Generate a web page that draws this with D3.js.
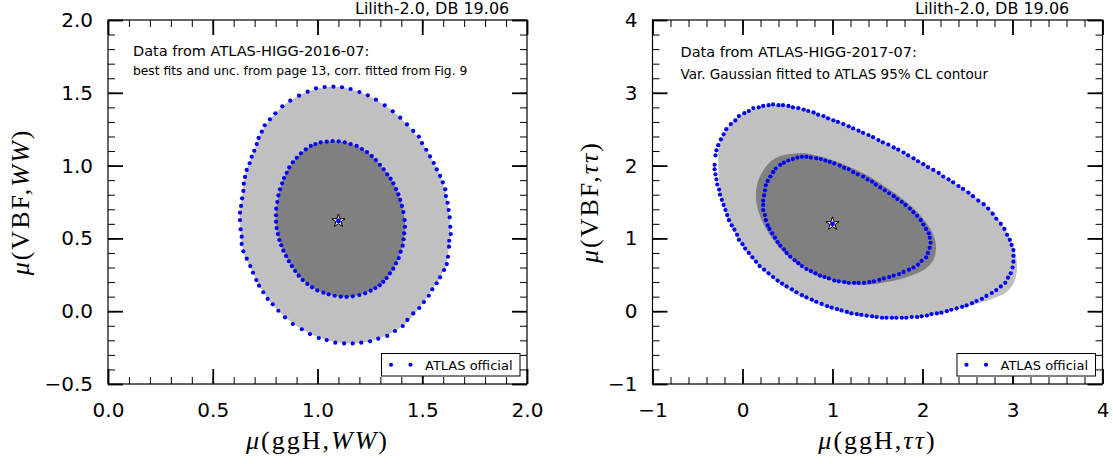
<!DOCTYPE html>
<html><head><meta charset="utf-8">
<script src="https://cdn.jsdelivr.net/npm/d3@7"></script>
<style>body{margin:0;background:#fff}svg{display:block}</style>
</head><body>
<svg id="chart" width="1113" height="464"></svg>
<script>
// ---------------- DATA ----------------
const headerLabel = "Lilith-2.0, DB 19.06";
const legendLabel = "ATLAS official";

const xTicksWW = [0, 0.5, 1, 1.5, 2];
const xTickLabelsWW = ["0.0", "0.5", "1.0", "1.5", "2.0"];
const yTicksWW = [-0.5, 0, 0.5, 1, 1.5, 2];
const yTickLabelsWW = ["\u22120.5", "0.0", "0.5", "1.0", "1.5", "2.0"];
const xTicksTT = [-1, 0, 1, 2, 3, 4];
const xTickLabelsTT = ["\u22121", "0", "1", "2", "3", "4"];
const yTicksTT = [-1, 0, 1, 2, 3, 4];
const yTickLabelsTT = ["\u22121", "0", "1", "2", "3", "4"];

const noteWW = ["Data from ATLAS-HIGG-2016-07:", "best fits and unc. from page 13, corr. fitted from Fig. 9"];
const noteTT = ["Data from ATLAS-HIGG-2017-07:", "Var. Gaussian fitted to ATLAS 95% CL contour"];

const bestFitWW = [1.10, 0.62];
const bestFitTT = [1.00, 1.20];

// ATLAS official contour points (blue dots), WW channel
const atlasOuterWW = [
[1.076,1.542],[1.117,1.538],[1.158,1.526],[1.200,1.505],[1.240,1.483],[1.279,1.453],[1.321,1.414],[1.359,1.373],
[1.395,1.329],[1.427,1.283],[1.457,1.238],[1.484,1.199],[1.499,1.155],[1.519,1.109],[1.537,1.063],[1.555,1.018],
[1.569,0.974],[1.585,0.929],[1.598,0.885],[1.610,0.837],[1.613,0.791],[1.621,0.745],[1.626,0.695],[1.631,0.645],
[1.634,0.580],[1.636,0.530],[1.629,0.484],[1.628,0.443],[1.623,0.374],[1.617,0.324],[1.604,0.283],[1.585,0.233],
[1.569,0.192],[1.548,0.150],[1.531,0.106],[1.508,0.063],[1.486,0.022],[1.457,-0.015],[1.429,-0.060],[1.407,-0.102],
[1.370,-0.136],[1.333,-0.170],[1.290,-0.189],[1.251,-0.207],[1.209,-0.216],[1.168,-0.221],[1.127,-0.221],[1.085,-0.216],
[1.044,-0.198],[1.006,-0.184],[0.964,-0.157],[0.925,-0.124],[0.882,-0.088],[0.845,-0.042],[0.813,0.003],[0.786,0.047],
[0.762,0.084],[0.741,0.130],[0.721,0.175],[0.708,0.214],[0.692,0.264],[0.679,0.310],[0.662,0.361],[0.646,0.411],
[0.638,0.462],[0.638,0.512],[0.633,0.562],[0.630,0.626],[0.630,0.677],[0.635,0.723],[0.640,0.775],[0.646,0.826],
[0.648,0.876],[0.654,0.922],[0.662,0.970],[0.676,1.016],[0.686,1.061],[0.698,1.102],[0.710,1.148],[0.719,1.190],
[0.734,1.233],[0.748,1.277],[0.773,1.318],[0.799,1.359],[0.832,1.407],[0.870,1.446],[0.912,1.480],[0.953,1.508],
[0.993,1.531],[1.034,1.540]
];
const atlasInnerWW = [
[1.044,1.164],[1.072,1.169],[1.101,1.167],[1.130,1.160],[1.158,1.148],[1.187,1.135],[1.212,1.114],[1.236,1.093],
[1.259,1.066],[1.279,1.038],[1.298,1.006],[1.316,0.975],[1.333,0.940],[1.349,0.910],[1.362,0.878],[1.375,0.839],
[1.386,0.803],[1.395,0.764],[1.403,0.723],[1.410,0.681],[1.416,0.626],[1.418,0.580],[1.414,0.535],[1.411,0.494],
[1.407,0.450],[1.397,0.409],[1.388,0.365],[1.375,0.329],[1.362,0.292],[1.346,0.260],[1.330,0.228],[1.314,0.201],
[1.297,0.178],[1.276,0.159],[1.254,0.141],[1.228,0.123],[1.200,0.111],[1.168,0.102],[1.139,0.098],[1.111,0.100],
[1.082,0.106],[1.053,0.116],[1.028,0.127],[0.999,0.143],[0.974,0.164],[0.951,0.187],[0.929,0.214],[0.910,0.244],
[0.893,0.276],[0.877,0.310],[0.863,0.343],[0.850,0.379],[0.837,0.416],[0.827,0.453],[0.818,0.489],[0.811,0.530],
[0.805,0.571],[0.802,0.615],[0.802,0.659],[0.803,0.704],[0.808,0.750],[0.813,0.796],[0.821,0.837],[0.831,0.878],
[0.840,0.915],[0.853,0.951],[0.865,0.988],[0.882,1.023],[0.901,1.054],[0.921,1.084],[0.944,1.112],[0.968,1.135],
[0.990,1.148],[1.015,1.160]
];
// Lilith contours (grey fills), WW channel
const lilithOuterWW = [
[1.076,1.542],[1.200,1.505],[1.321,1.414],[1.427,1.283],[1.499,1.155],[1.555,1.018],[1.598,0.885],[1.621,0.745],
[1.634,0.580],[1.628,0.443],[1.604,0.283],[1.548,0.150],[1.486,0.022],[1.407,-0.102],[1.290,-0.189],[1.168,-0.221],
[1.044,-0.198],[0.925,-0.124],[0.813,0.003],[0.741,0.130],[0.692,0.264],[0.646,0.411],[0.633,0.562],[0.630,0.677],
[0.640,0.775],[0.648,0.876],[0.662,0.970],[0.698,1.102],[0.734,1.233],[0.799,1.359],[0.870,1.446],[0.953,1.508]
];
const lilithInnerWW = [
[1.072,1.169],[1.158,1.148],[1.236,1.093],[1.298,1.006],[1.349,0.910],[1.386,0.803],[1.410,0.681],[1.418,0.580],
[1.411,0.494],[1.397,0.409],[1.375,0.329],[1.330,0.228],[1.276,0.159],[1.200,0.111],[1.111,0.100],[1.028,0.127],
[0.951,0.187],[0.893,0.276],[0.850,0.379],[0.818,0.489],[0.802,0.615],[0.808,0.750],[0.831,0.878],[0.865,0.988],
[0.921,1.084],[0.990,1.148]
];

// ATLAS official contour points (blue dots), tau-tau channel
const atlasOuterTT = [
[-0.31,2.01],[-0.30,2.14],[-0.29,2.21],[-0.27,2.28],[-0.24,2.36],[-0.21,2.43],[-0.18,2.50],[-0.13,2.57],[-0.08,2.62],
[-0.04,2.68],[0.02,2.72],[0.07,2.75],[0.12,2.79],[0.18,2.80],[0.23,2.82],[0.29,2.83],[0.34,2.84],[0.40,2.83],
[0.45,2.83],[0.51,2.82],[0.56,2.80],[0.62,2.79],[0.68,2.77],[0.73,2.75],[0.79,2.73],[0.84,2.70],[0.90,2.68],
[0.95,2.65],[1.01,2.62],[1.06,2.60],[1.12,2.57],[1.18,2.54],[1.23,2.51],[1.29,2.48],[1.34,2.45],[1.40,2.42],
[1.45,2.39],[1.51,2.35],[1.56,2.32],[1.62,2.29],[1.68,2.25],[1.73,2.22],[1.79,2.18],[1.84,2.14],[1.90,2.10],
[1.95,2.06],[2.01,2.02],[2.06,1.98],[2.12,1.94],[2.18,1.90],[2.23,1.85],[2.29,1.81],[2.34,1.77],[2.40,1.72],
[2.45,1.68],[2.51,1.63],[2.56,1.58],[2.62,1.52],[2.68,1.47],[2.73,1.41],[2.78,1.34],[2.82,1.27],[2.87,1.20],
[2.91,1.13],[2.94,1.05],[2.97,0.98],[2.99,0.91],[3.01,0.84],[3.01,0.76],[3.01,0.68],[3.00,0.60],[2.98,0.52],
[2.95,0.46],[2.92,0.39],[2.87,0.34],[2.82,0.29],[2.77,0.25],[2.71,0.21],[2.66,0.17],[2.60,0.14],[2.55,0.11],
[2.49,0.08],[2.44,0.06],[2.38,0.04],[2.32,0.02],[2.27,0.00],[2.21,-0.02],[2.16,-0.03],[2.10,-0.04],[2.05,-0.06],
[1.99,-0.07],[1.94,-0.08],[1.88,-0.08],[1.82,-0.09],[1.77,-0.09],[1.71,-0.09],[1.66,-0.09],[1.60,-0.09],[1.55,-0.09],
[1.49,-0.08],[1.44,-0.07],[1.38,-0.06],[1.32,-0.05],[1.27,-0.04],[1.21,-0.03],[1.16,-0.01],[1.10,0.01],[1.05,0.03],
[0.99,0.05],[0.94,0.07],[0.88,0.10],[0.82,0.13],[0.77,0.16],[0.71,0.19],[0.66,0.22],[0.60,0.26],[0.55,0.30],
[0.49,0.34],[0.44,0.38],[0.39,0.42],[0.34,0.47],[0.29,0.52],[0.24,0.57],[0.19,0.62],[0.15,0.68],[0.11,0.74],
[0.07,0.80],[0.03,0.86],[0.00,0.92],[-0.04,0.98],[-0.06,1.05],[-0.09,1.12],[-0.12,1.18],[-0.15,1.25],[-0.17,1.32],
[-0.19,1.39],[-0.21,1.46],[-0.23,1.53],[-0.25,1.60],[-0.26,1.67],[-0.28,1.74],[-0.29,1.81],[-0.30,1.88],[-0.31,1.95]
];
const atlasInnerTT = [
[0.23,1.46],[0.23,1.52],[0.24,1.59],[0.25,1.66],[0.26,1.73],[0.28,1.79],[0.31,1.85],[0.34,1.91],[0.37,1.96],
[0.42,2.01],[0.46,2.04],[0.51,2.07],[0.56,2.09],[0.61,2.11],[0.66,2.12],[0.71,2.12],[0.76,2.11],[0.82,2.10],
[0.87,2.09],[0.92,2.07],[0.97,2.05],[1.02,2.03],[1.08,2.00],[1.13,1.97],[1.18,1.95],[1.23,1.91],[1.28,1.88],
[1.34,1.85],[1.39,1.81],[1.44,1.78],[1.48,1.74],[1.53,1.70],[1.58,1.66],[1.63,1.62],[1.68,1.58],[1.72,1.54],
[1.77,1.50],[1.81,1.46],[1.86,1.41],[1.90,1.36],[1.94,1.31],[1.98,1.25],[2.01,1.19],[2.04,1.13],[2.07,1.07],
[2.08,1.01],[2.09,0.94],[2.08,0.87],[2.06,0.80],[2.04,0.74],[1.99,0.69],[1.95,0.64],[1.90,0.60],[1.85,0.57],
[1.79,0.54],[1.74,0.51],[1.68,0.49],[1.63,0.47],[1.57,0.45],[1.52,0.43],[1.46,0.41],[1.41,0.40],[1.35,0.39],
[1.29,0.39],[1.24,0.39],[1.18,0.39],[1.13,0.40],[1.07,0.41],[1.02,0.42],[0.96,0.45],[0.91,0.47],[0.86,0.49],
[0.81,0.52],[0.76,0.55],[0.71,0.58],[0.66,0.62],[0.62,0.66],[0.58,0.70],[0.53,0.75],[0.49,0.80],[0.46,0.85],
[0.42,0.90],[0.39,0.95],[0.36,1.01],[0.33,1.07],[0.30,1.13],[0.28,1.18],[0.26,1.25],[0.25,1.32],[0.23,1.39]
];
// Lilith contours (grey fills), tau-tau channel
const lilithOuterTT = [
[-0.27,2.05],[-0.26,2.28],[-0.18,2.49],[-0.04,2.68],[0.16,2.79],[0.34,2.83],[0.56,2.81],[0.86,2.71],
[1.16,2.56],[1.45,2.39],[1.75,2.21],[2.05,2.00],[2.34,1.77],[2.60,1.56],[2.79,1.35],[2.93,1.11],
[3.02,0.85],[3.05,0.62],[3.02,0.40],[2.93,0.26],[2.75,0.16],[2.49,0.06],[2.19,-0.03],[1.90,-0.09],
[1.60,-0.10],[1.31,-0.07],[1.00,0.02],[0.71,0.16],[0.45,0.34],[0.23,0.56],[0.05,0.80],[-0.10,1.11],
[-0.21,1.43],[-0.26,1.78]
];
const lilithInnerTT = [
[0.15,1.55],[0.16,1.73],[0.21,1.89],[0.29,2.03],[0.40,2.12],[0.53,2.16],[0.68,2.17],[0.82,2.14],
[1.01,2.07],[1.19,1.98],[1.38,1.87],[1.56,1.73],[1.75,1.57],[1.92,1.39],[2.05,1.20],[2.13,1.02],
[2.15,0.86],[2.12,0.70],[2.03,0.58],[1.90,0.50],[1.75,0.44],[1.56,0.39],[1.38,0.36],[1.19,0.37],
[1.01,0.42],[0.82,0.49],[0.64,0.62],[0.49,0.77],[0.36,0.95],[0.25,1.16],[0.18,1.36]
];

// ---------------- LAYOUT ----------------
const svg = d3.select("#chart");
const SANS = "DejaVu Sans, Verdana, sans-serif";
const SERIF = "Liberation Serif, DejaVu Serif, serif";

const panels = [
  { x0: 108, x1: 527, yTop: 20, yBot: 384, xDom: [0, 2], yDom: [-0.5, 2],
    xTicks: xTicksWW, xLabels: xTickLabelsWW, yTicks: yTicksWW, yLabels: yTickLabelsWW,
    xMinor: 20, yMinor: 25,
    outer: lilithOuterWW, inner: lilithInnerWW, dotsOuter: atlasOuterWW, dotsInner: atlasInnerWW,
    best: bestFitWW, note: noteWW, noteSizes: [14.5, 12.3], noteY: [56, 75], noteX: 133,
    headerX: 355, channel: "WW", ylabX: 29 },
  { x0: 652.5, x1: 1102.5, yTop: 20, yBot: 384, xDom: [-1, 4], yDom: [-1, 4],
    xTicks: xTicksTT, xLabels: xTickLabelsTT, yTicks: yTicksTT, yLabels: yTickLabelsTT,
    xMinor: 25, yMinor: 25,
    outer: lilithOuterTT, inner: lilithInnerTT, dotsOuter: atlasOuterTT, dotsInner: atlasInnerTT,
    best: bestFitTT, note: noteTT, noteSizes: [14.5, 13.5], noteY: [57, 79], noteX: 680.5,
    headerX: 915, channel: "\u03c4\u03c4", ylabX: 598 }
];

panels.forEach(p => {
  const x = d3.scaleLinear().domain(p.xDom).range([p.x0, p.x1]);
  const y = d3.scaleLinear().domain(p.yDom).range([p.yBot, p.yTop]);
  const g = svg.append("g");
  const clipId = "clip" + Math.round(p.x0);
  svg.append("clipPath").attr("id", clipId).append("rect")
    .attr("x", p.x0).attr("y", p.yTop).attr("width", p.x1 - p.x0).attr("height", p.yBot - p.yTop);
  const plot = g.append("g").attr("clip-path", `url(#${clipId})`);

  const area = d3.line().x(d => x(d[0])).y(d => y(d[1])).curve(d3.curveCatmullRomClosed);
  plot.append("path").attr("d", area(p.outer)).attr("fill", "#c0c0c0");
  plot.append("path").attr("d", area(p.inner)).attr("fill", "#808080");

  [p.dotsOuter, p.dotsInner].forEach(arr => {
    plot.append("g").selectAll("circle").data(arr).join("circle")
      .attr("cx", d => x(d[0])).attr("cy", d => y(d[1])).attr("r", 2.1).attr("fill", "#0000ff");
  });

  // best fit star
  plot.append("path").attr("d", d3.symbol(d3.symbolStar, 55)())
    .attr("transform", `translate(${x(p.best[0])},${y(p.best[1])})`)
    .attr("fill", "#fff").attr("stroke", "#000").attr("stroke-width", 1);
  plot.append("circle").attr("cx", x(p.best[0])).attr("cy", y(p.best[1])).attr("r", 2.4).attr("fill", "#0000ff");

  // axes: major + minor ticks, pointing inward on all four sides
  const styleAxis = (sel, w) => {
    sel.select(".domain").remove();
    sel.selectAll(".tick line").attr("stroke", "#000").attr("stroke-width", w);
    sel.selectAll("text").attr("font-family", SANS).attr("font-size", 20).attr("fill", "#000");
  };
  const xlab = d3.scaleOrdinal().domain(p.xTicks).range(p.xLabels);
  const ylab = d3.scaleOrdinal().domain(p.yTicks).range(p.yLabels);

  g.append("g").attr("transform", `translate(0,${p.yBot})`)
    .call(d3.axisBottom(x).tickValues(x.ticks(p.xMinor)).tickSize(-7).tickFormat("")).call(s => styleAxis(s, 1));
  g.append("g").attr("transform", `translate(0,${p.yTop})`)
    .call(d3.axisTop(x).tickValues(x.ticks(p.xMinor)).tickSize(-7).tickFormat("")).call(s => styleAxis(s, 1));
  g.append("g").attr("transform", `translate(${p.x0},0)`)
    .call(d3.axisLeft(y).tickValues(y.ticks(p.yMinor)).tickSize(-7).tickFormat("")).call(s => styleAxis(s, 1));
  g.append("g").attr("transform", `translate(${p.x1},0)`)
    .call(d3.axisRight(y).tickValues(y.ticks(p.yMinor)).tickSize(-7).tickFormat("")).call(s => styleAxis(s, 1));

  g.append("g").attr("transform", `translate(0,${p.yBot})`)
    .call(d3.axisBottom(x).tickValues(p.xTicks).tickSize(-15).tickPadding(19).tickFormat(d => xlab(d)))
    .call(s => styleAxis(s, 1.8));
  g.append("g").attr("transform", `translate(0,${p.yTop})`)
    .call(d3.axisTop(x).tickValues(p.xTicks).tickSize(-15).tickFormat("")).call(s => styleAxis(s, 1.8));
  g.append("g").attr("transform", `translate(${p.x0},0)`)
    .call(d3.axisLeft(y).tickValues(p.yTicks).tickSize(-15).tickPadding(15).tickFormat(d => ylab(d)))
    .call(s => styleAxis(s, 1.8));
  g.append("g").attr("transform", `translate(${p.x1},0)`)
    .call(d3.axisRight(y).tickValues(p.yTicks).tickSize(-15).tickFormat("")).call(s => styleAxis(s, 1.8));

  // frame
  g.append("rect").attr("x", p.x0).attr("y", p.yTop).attr("width", p.x1 - p.x0).attr("height", p.yBot - p.yTop)
    .attr("fill", "none").attr("stroke", "#000").attr("stroke-width", 1.2);

  // legend
  const lw = 138.5, lh = 22.5;
  const lx = p.x1 - 7 - lw, ly = p.yBot - 8 - lh;
  const leg = g.append("g");
  leg.append("rect").attr("x", lx).attr("y", ly).attr("width", lw).attr("height", lh)
    .attr("fill", "#fff").attr("stroke", "#000").attr("stroke-width", 1);
  [9.5, 29].forEach(dx => leg.append("circle").attr("cx", lx + dx).attr("cy", ly + lh / 2).attr("r", 2.1).attr("fill", "#0000ff"));
  leg.append("text").attr("x", lx + 43.5).attr("y", ly + lh / 2 + 4.8)
    .attr("font-family", SANS).attr("font-size", 13).text(legendLabel);

  // notes
  p.note.forEach((t, i) => {
    g.append("text").attr("x", p.noteX).attr("y", p.noteY[i]).attr("font-family", SANS)
      .attr("font-size", p.noteSizes[i]).text(t);
  });
  g.append("text").attr("x", p.headerX).attr("y", 14).attr("font-family", SANS).attr("font-size", 16).text(headerLabel);

  // axis labels
  const mk = (sel, prod) => {
    sel.append("tspan").attr("font-style", "italic").text("\u03bc");
    sel.append("tspan").text("(" + prod + ",");
    sel.append("tspan").attr("font-style", "italic").text(p.channel);
    sel.append("tspan").text(")");
  };
  const xl = g.append("text").attr("x", (p.x0 + p.x1) / 2).attr("y", 449).attr("text-anchor", "middle")
    .attr("font-family", SERIF).attr("font-size", 26).attr("letter-spacing", 2);
  mk(xl, "ggH");
  const yl = g.append("text").attr("transform", `translate(${p.ylabX},${(p.yTop + p.yBot) / 2}) rotate(-90)`)
    .attr("text-anchor", "middle").attr("font-family", SERIF).attr("font-size", 26).attr("letter-spacing", 2);
  mk(yl, "VBF");
});
</script>
</body></html>
